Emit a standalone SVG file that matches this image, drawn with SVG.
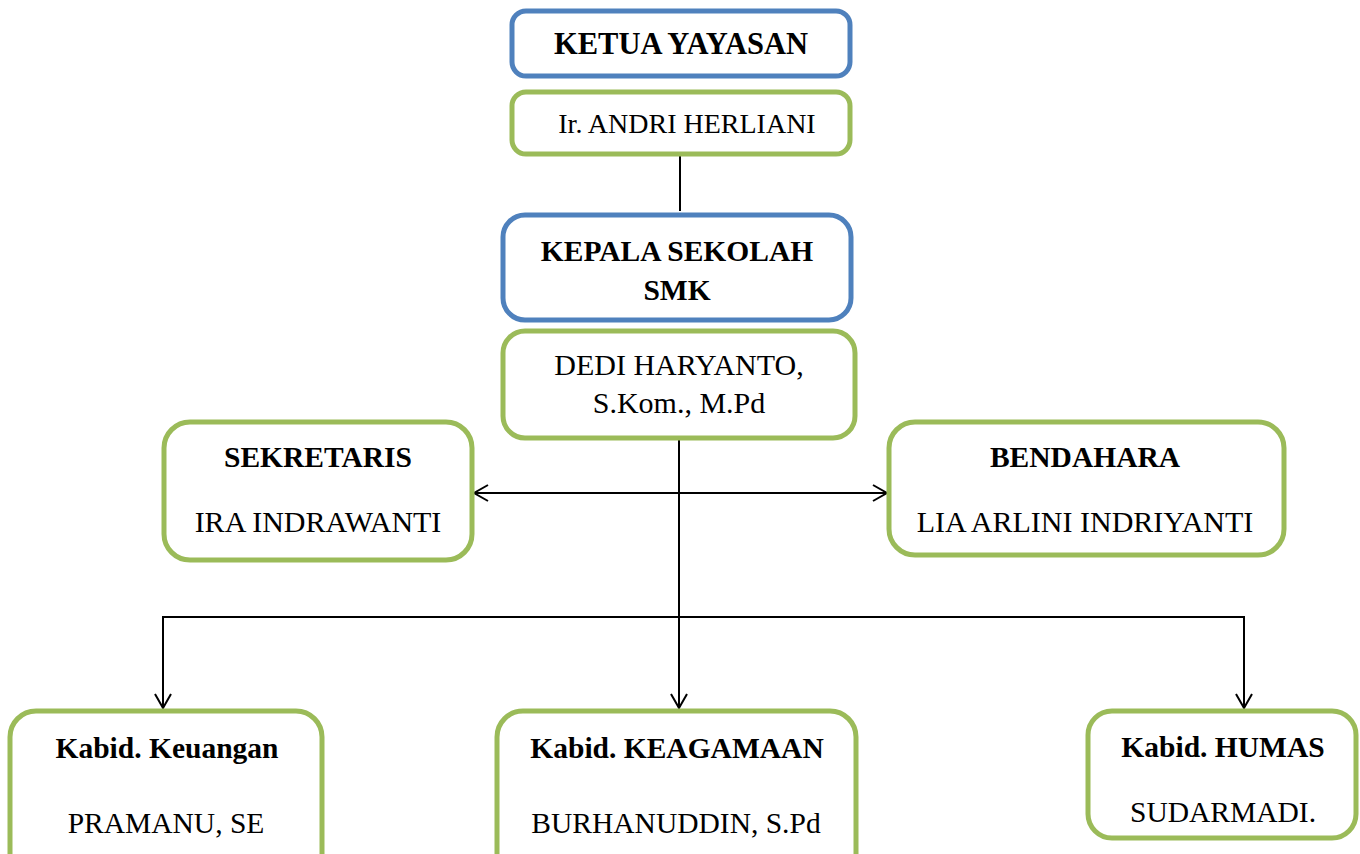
<svg xmlns="http://www.w3.org/2000/svg" width="1360" height="854" viewBox="0 0 1360 854">
<style>
.box{fill:#fff;stroke-width:5}
.blue{stroke:#4F81BD}
.green{stroke:#9BBB59}
text{font-family:'Liberation Serif','DejaVu Serif',serif;font-size:29.5px;fill:#000;text-anchor:middle}
.b{font-weight:bold}
.c{stroke:#000;stroke-width:2;fill:none}
</style>
<defs>
<marker id="ah" viewBox="0 0 20 20" refX="18" refY="10" markerWidth="20" markerHeight="20" markerUnits="userSpaceOnUse" orient="auto-start-reverse">
<path d="M4,2 L18,10 L4,18" fill="none" stroke="#000" stroke-width="2"/>
</marker>
</defs>
<rect width="1360" height="854" fill="#fff"/>
<g id="connectors">
<line class="c" x1="680" y1="154" x2="680" y2="211"/>
<line class="c" x1="679" y1="439" x2="679" y2="708" marker-end="url(#ah)"/>
<line class="c" x1="474" y1="493" x2="887" y2="493" marker-start="url(#ah)" marker-end="url(#ah)"/>
<polyline class="c" points="163,708 163,617 1244,617 1244,708" marker-start="url(#ah)" marker-end="url(#ah)"/>
</g>
<g id="ketua"><rect class="box blue" x="512" y="11" width="338" height="65" rx="14"/><text class="b" x="681" y="54" style="font-size:30.5px">KETUA YAYASAN</text></g>
<g id="andri"><rect class="box green" x="512" y="92" width="338" height="62" rx="14"/><text x="687" y="133" style="font-size:28px">Ir. ANDRI HERLIANI</text></g>
<g id="kepsek"><rect class="box blue" x="503" y="215" width="348" height="105" rx="22"/><text class="b" x="677" y="261">KEPALA SEKOLAH</text><text class="b" x="677" y="300">SMK</text></g>
<g id="dedi"><rect class="box green" x="503" y="331" width="352" height="107" rx="22"/><text x="679" y="375" style="font-size:30px">DEDI HARYANTO,</text><text x="679" y="413" style="font-size:30px">S.Kom., M.Pd</text></g>
<g id="sekretaris"><rect class="box green" x="164" y="422" width="308" height="138" rx="26"/><text class="b" x="318" y="467">SEKRETARIS</text><text x="318" y="532" style="font-size:30px">IRA INDRAWANTI</text></g>
<g id="bendahara"><rect class="box green" x="889" y="422" width="395" height="133" rx="26"/><text class="b" x="1085" y="467">BENDAHARA</text><text x="1085" y="532" style="font-size:30px">LIA ARLINI INDRIYANTI</text></g>
<g id="keuangan"><rect class="box green" x="10" y="711" width="312" height="170" rx="26"/><text class="b" x="167" y="758">Kabid. Keuangan</text><text x="166" y="833">PRAMANU, SE</text></g>
<g id="keagamaan"><rect class="box green" x="497" y="711" width="359" height="170" rx="26"/><text class="b" x="677" y="758">Kabid. KEAGAMAAN</text><text x="676" y="833">BURHANUDDIN, S.Pd</text></g>
<g id="humas"><rect class="box green" x="1088" y="711" width="268" height="127" rx="24"/><text class="b" x="1223" y="757">Kabid. HUMAS</text><text x="1223" y="822">SUDARMADI.</text></g>
</svg>
